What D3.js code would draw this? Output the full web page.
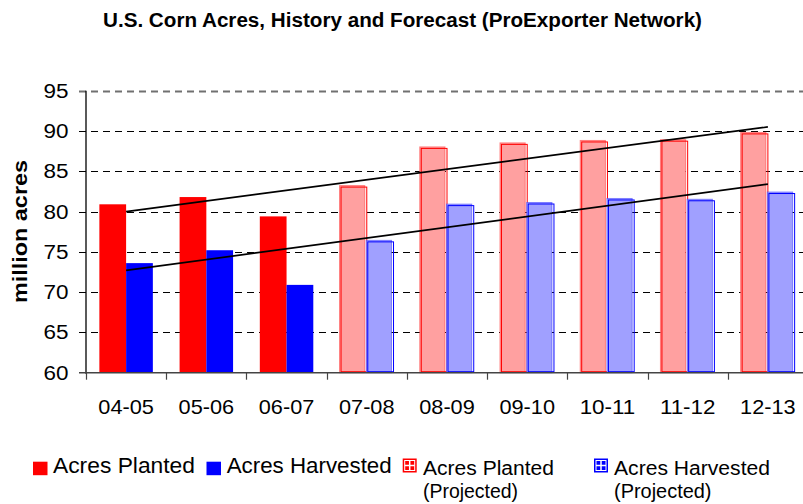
<!DOCTYPE html>
<html>
<head>
<meta charset="utf-8">
<script src="https://cdn.jsdelivr.net/npm/d3@7"></script>
<style>
  html, body { margin: 0; padding: 0; background: #fff; }
  svg { display: block; }
  text { font-family: "Liberation Sans", Arimo, Arial, sans-serif; fill: #000; }
</style>
</head>
<body>
<div id="chart"></div>
<script>
// ---- data ----
const categories = ["04-05", "05-06", "06-07", "07-08", "08-09", "09-10", "10-11", "11-12", "12-13"];
const planted    = [80.9, 81.8, 79.4, 83.1, 87.9, 88.4, 88.7, 88.8, 89.7];
const harvested  = [73.6, 75.2, 70.9, 76.3, 80.8, 81.0, 81.5, 81.4, 82.3];
const projected  = [false, false, false, true, true, true, true, true, true];
const trendPlanted   = [80.0, 90.5];   // values at first and last category
const trendHarvested = [72.7, 83.4];
const yTicks = [60, 65, 70, 75, 80, 85, 90, 95];
const titleText = "U.S. Corn Acres, History and Forecast (ProExporter Network)";
const yTitle = "million acres";

// ---- layout ----
const W = 803, H = 504;
const svg = d3.select("#chart").append("svg").attr("width", W).attr("height", H);

const x = d3.scaleBand().domain(categories).range([86, 808]).paddingInner(0).paddingOuter(0);
const sub = d3.scaleBand().domain(["planted", "harvested"]).range([0, x.bandwidth()]).paddingInner(0).paddingOuter(0.5);
const y = d3.scaleLinear().domain([60, 95]).range([372.7, 90.7]);

// title
svg.append("text")
  .attr("x", 103).attr("y", 26.5)
  .attr("font-family", "'Liberation Sans Narrow', 'Liberation Sans', Arial, sans-serif")
  .attr("font-size", 19.5).attr("font-weight", "bold")
  .attr("textLength", 599).attr("lengthAdjust", "spacingAndGlyphs")
  .text(titleText);

// gridlines (dashed, starting at tick-left)
const grid = svg.append("g");
yTicks.filter(t => t > 60).forEach(t => {
  grid.append("line")
    .attr("x1", 79).attr("x2", 803)
    .attr("y1", Math.round(y(t)) + 0.5).attr("y2", Math.round(y(t)) + 0.5)
    .attr("stroke", t === 95 ? "#707070" : "#000")
    .attr("stroke-width", t === 95 ? 1.8 : 1)
    .attr("stroke-dasharray", "7,5");
});

// bars
const colors = {
  planted:   { solid: "#ff0000", light: "#ffa0a0", edge: "rgba(255,60,60,0.55)" },
  harvested: { solid: "#0000ff", light: "#a0a0ff", edge: "rgba(60,60,255,0.55)" }
};
const barsG = svg.append("g");
categories.forEach((c, i) => {
  [["planted", planted[i]], ["harvested", harvested[i]]].forEach(([key, v]) => {
    const bx = x(c) + sub(key);
    const bw = sub.bandwidth();
    const top = y(v), base = y(60);
    if (!projected[i]) {
      barsG.append("rect")
        .attr("x", bx).attr("y", top).attr("width", bw).attr("height", base - top)
        .attr("fill", colors[key].solid);
    } else {
      barsG.append("rect")
        .attr("x", bx - 0.5).attr("y", top - 1)
        .attr("width", bw - 1.5).attr("height", base - top + 1)
        .attr("fill", colors[key].light)
        .attr("stroke", colors[key].edge).attr("stroke-width", 1);
      barsG.append("rect")
        .attr("x", bx + 1).attr("y", top + 0.5)
        .attr("width", bw - 1).attr("height", base - top - 1.5)
        .attr("fill", "none")
        .attr("stroke", colors[key].solid).attr("stroke-width", 1);
    }
  });
});

// axes
svg.append("line").attr("x1", 86).attr("x2", 86).attr("y1", y(95)).attr("y2", y(60) + 1)
  .attr("stroke", "#000").attr("stroke-width", 1.3);
svg.append("line").attr("x1", 79).attr("x2", 803).attr("y1", y(60)).attr("y2", y(60))
  .attr("stroke", "#444").attr("stroke-width", 1.5);
categories.forEach(c => {
  svg.append("line").attr("x1", Math.round(x(c)) + 0.5).attr("x2", Math.round(x(c)) + 0.5)
    .attr("y1", y(60)).attr("y2", y(60) + 7).attr("stroke", "#444").attr("stroke-width", 1.2);
});

// y tick labels
yTicks.forEach(t => {
  svg.append("text")
    .attr("x", 68.5).attr("y", y(t) + 7)
    .attr("text-anchor", "end")
    .attr("font-size", 19.5)
    .attr("textLength", 25).attr("lengthAdjust", "spacingAndGlyphs")
    .text(t);
});

// x labels
categories.forEach(c => {
  svg.append("text")
    .attr("x", x(c) + x.bandwidth() / 2).attr("y", 414.3)
    .attr("text-anchor", "middle")
    .attr("font-size", 21)
    .attr("textLength", 55.5).attr("lengthAdjust", "spacingAndGlyphs")
    .text(c);
});

// y axis title
svg.append("text")
  .attr("transform", "translate(27,231.5) rotate(-90)")
  .attr("text-anchor", "middle")
  .attr("font-size", 19.5).attr("font-weight", "bold")
  .attr("textLength", 143).attr("lengthAdjust", "spacingAndGlyphs")
  .text(yTitle);

// trend lines
const line = d3.line().x(d => d[0]).y(d => d[1]);
const cx = c => x(c) + x.bandwidth() / 2;
[trendPlanted, trendHarvested].forEach(tr => {
  svg.append("path")
    .attr("d", line([[cx(categories[0]), y(tr[0])], [cx(categories[categories.length - 1]), y(tr[1])]]))
    .attr("stroke", "#000").attr("stroke-width", 1.7).attr("fill", "none");
});

// legend
const leg = svg.append("g");
function solidIcon(x0, color) {
  leg.append("rect").attr("x", x0).attr("y", 461.7).attr("width", 14.5).attr("height", 13.5).attr("fill", color);
}
function projIcon(x0, color) {
  const yy = 458.5, s = 14;
  leg.append("rect").attr("x", x0).attr("y", yy).attr("width", s).attr("height", s).attr("fill", color);
  leg.append("rect").attr("x", x0 + 2).attr("y", yy + 2).attr("width", s - 4).attr("height", s - 4)
    .attr("fill", "none").attr("stroke", "#fff").attr("stroke-width", 1);
  leg.append("line").attr("x1", x0 + 2).attr("x2", x0 + s - 2).attr("y1", yy + s / 2).attr("y2", yy + s / 2)
    .attr("stroke", "#fff").attr("stroke-width", 1.5);
  leg.append("line").attr("y1", yy + 2).attr("y2", yy + s - 2).attr("x1", x0 + s / 2).attr("x2", x0 + s / 2)
    .attr("stroke", "#fff").attr("stroke-width", 1.5);
}
function legText(x0, yb, len, str, fs) {
  leg.append("text").attr("x", x0).attr("y", yb).attr("font-size", fs || 21)
    .attr("textLength", len).attr("lengthAdjust", "spacingAndGlyphs").text(str);
}
solidIcon(33, colors.planted.solid);
legText(53, 472.7, 142, "Acres Planted", 21.5);
solidIcon(206.5, colors.harvested.solid);
legText(226.7, 472.7, 165, "Acres Harvested", 21.5);
projIcon(402.7, colors.planted.solid);
legText(423, 475, 131, "Acres Planted", 20);
legText(423, 498, 95, "(Projected)", 20);
projIcon(594, colors.harvested.solid);
legText(614, 475, 156, "Acres Harvested", 20);
legText(614, 498, 97.5, "(Projected)", 20);
</script>
</body>
</html>
